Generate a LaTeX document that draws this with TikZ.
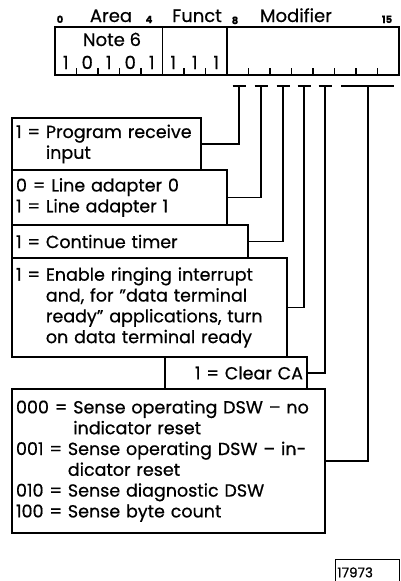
\documentclass[tikz,border=0pt]{standalone}
\usepackage{fontspec}
\setmainfont{Poppins}[FakeBold=0.6]
\usetikzlibrary{positioning}

\begin{document}
\begin{tikzpicture}[
    x=1pt, y=-1pt,
    reg/.style={draw, line width=1.3pt},
    note/.style={draw, line width=1.3pt, anchor=north west, align=left,
        inner xsep=4pt, inner ysep=0pt, outer sep=0pt,
        font=\fontsize{17.5}{20.8}\selectfont},
    tick/.style={line width=1.1pt},
    wire/.style={line width=1.3pt},
    bitno/.style={font=\fontsize{10}{10}\bfseries\selectfont, anchor=base},
    field/.style={font=\fontsize{18}{18}\selectfont, anchor=base}
]
    \useasboundingbox (0,0) rectangle (401,581);

    % register: 16 bits of 21.5pt from x=55
    \draw[reg] (55,27) rectangle (399,75);
    \draw[reg] (162.5,27) -- (162.5,75);
    \draw[reg] (227,27) -- (227,75);
    \foreach \i in {1,...,4,6,7,9,10,...,15}
        \draw[tick] (55+21.5*\i,75) -- ++(0,-7);

    \node[bitno] (n0) at (60,23) {0};
    \node[bitno] (n4) at (149,23) {4};
    \node[bitno] (n8) at (235,24) {8};
    \node[bitno] (n15) at (387,23) {15};
    \node[field] (area) at (111,22) {Area};
    \node[field] (funct) at (197,22) {Funct};
    \node[field] (modif) at (296,22) {Modifier};

    \node[field] (note6) at (112,46) {Note 6};
    \foreach \i/\v in {0/1,1/0,2/1,3/0,4/1,5/1,6/1,7/1}
        \node[field] (d\i) at (65.75+21.5*\i,69) {\v};

    % field descriptions
    \node[note, text width=181pt, minimum height=52pt] (prog) at (12,118)
        {1 = Program receive\\\phantom{1 = }input};
    \node[note, text width=207pt, minimum height=55pt,
        below=0pt of prog.south west, anchor=north west] (adapt)
        {0 = Line adapter 0\\1 = Line adapter 1};
    \node[note, text width=228pt, minimum height=33pt,
        below=0pt of adapt.south west, anchor=north west] (timer)
        {1 = Continue timer};
    \node[note, text width=267pt, minimum height=99pt,
        below=0pt of timer.south west, anchor=north west] (ring)
        {1 = Enable ringing interrupt\\
         \phantom{1 = }and, for "data terminal\\
         \phantom{1 = }ready" applications, turn\\
         \phantom{1 = }on data terminal ready};
    \node[note, text width=134pt, minimum height=32pt, align=right,
        anchor=north east] (clear) at ([xshift=20pt]ring.south east)
        {1 = Clear CA};
    \node[note, text width=305pt, minimum height=144pt,
        below=32pt of ring.south west, anchor=north west] (sense)
        {000 = Sense operating DSW -- no\\
         \phantom{000 = }indicator reset\\
         001 = Sense operating DSW -- in-\\
         \phantom{001 = }dicator reset\\
         010 = Sense diagnostic DSW\\
         100 = Sense byte count};

    % bit taps
    \foreach \x/\n in {239/prog, 261/adapt, 283/timer, 304/ring, 325/clear} {
        \coordinate (t\n) at (\x,86);
        \draw[wire] ([xshift=-6.5pt]t\n) -- ([xshift=6.5pt]t\n);
        \draw[wire] (t\n) |- (\n);
    }
    \coordinate (tsense) at (368,86);
    \draw[wire] (341,86) -- (394,86);
    \draw[wire] (tsense) |- (sense);

    \node[draw, line width=0.8pt, anchor=north west, minimum width=64pt,
        minimum height=26pt, font=\rmfamily\fontsize{13.5}{13.5}\selectfont,
        text width=60pt, align=left, inner xsep=2pt] (fig) at (335,559) {17973};
\end{tikzpicture}
\end{document}
